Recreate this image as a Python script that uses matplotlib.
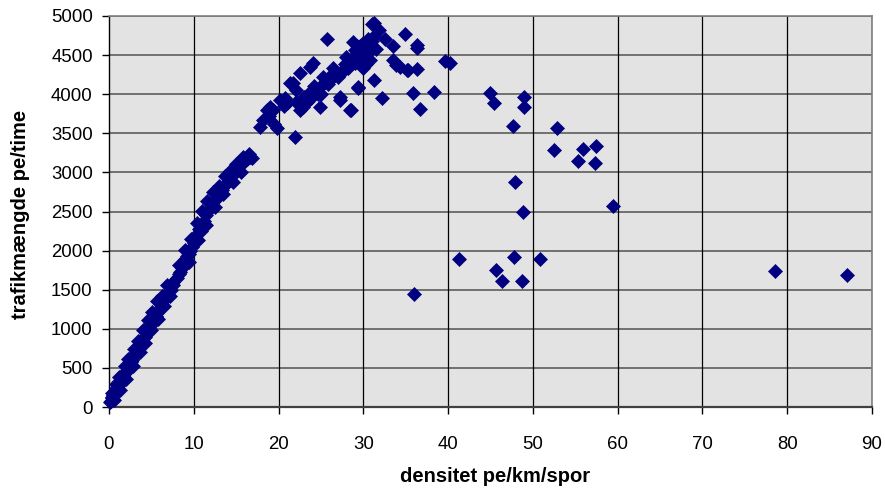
import matplotlib
matplotlib.use("Agg")
import matplotlib.pyplot as plt

plt.rcParams['font.family'] = ['Liberation Sans', 'DejaVu Sans']

# --- data: density (pe/km/lane) vs flow (pe/hour) ---
band_x = [0.1, 0.2, 0.3, 0.4, 0.5, 0.6, 0.7, 0.8, 0.9, 1.0, 1.1, 1.2, 1.3, 1.4, 1.5,
          1.6, 1.7, 1.8, 1.9, 2.0, 2.1, 2.2, 2.3, 2.4, 2.5, 2.6, 2.7, 2.8, 2.9, 3.0,
          3.2, 3.3, 3.5, 3.6, 3.8, 3.9, 4.1, 4.2, 4.4, 4.5, 4.7, 4.8, 5.0, 5.2, 5.3,
          5.5, 5.7, 5.8, 6.0, 6.2, 6.4, 6.5, 6.7, 6.9, 7.1, 7.3, 7.5, 8.0, 8.2, 8.4,
          8.6, 8.8, 9.0, 9.2, 9.4, 9.6, 9.8, 10.0, 10.3, 10.6, 10.9, 11.2, 11.5, 11.8,
          12.1, 12.4, 12.7, 13.0, 13.3, 13.6, 13.9, 14.2, 14.5, 14.8, 15.1, 15.4, 15.7,
          16.0, 16.3, 16.6, 16.9, 0.5, 1.5, 2.6, 3.4, 4.6, 5.6, 6.6, 9.1, 10.8, 12.9, 14.4]
band_y = [60, 80, 110, 130, 150, 170, 190, 210, 235, 250, 270, 300, 310, 330, 360,
          370, 400, 420, 430, 450, 470, 500, 520, 540, 560, 590, 600, 630, 650, 670,
          700, 720, 760, 790, 830, 850, 890, 900, 950, 980, 1000, 1030, 1060, 1100, 1120,
          1170, 1200, 1230, 1270, 1310, 1350, 1380, 1410, 1450, 1480, 1500, 1560, 1650, 1700, 1730,
          1780, 1830, 1880, 1930, 1960, 2000, 2050, 2100, 2200, 2270, 2320, 2380, 2450, 2520,
          2580, 2630, 2700, 2740, 2780, 2820, 2870, 2900, 2950, 3000, 3050, 3090, 3120,
          3150, 3170, 3200, 3180, 100, 330, 570, 760, 960, 1150, 1430, 1900, 2250, 2690, 2950]

band_hi_x = [0.3, 0.8, 1.2, 1.9, 2.3, 2.9, 3.4, 4.0, 4.6, 5.1, 5.7, 6.2, 6.8, 7.6, 8.3,
             9.0, 9.7, 10.4, 11.0, 11.6, 12.3, 13.0, 13.7, 14.3, 15.0, 15.8, 16.5]
band_hi_y = [180, 290, 380, 520, 610, 740, 850, 980, 1110, 1220, 1350, 1420, 1560, 1600, 1820,
             2010, 2150, 2350, 2510, 2640, 2750, 2830, 2950, 3020, 3110, 3200, 3230]

band_lo_x = [0.6, 1.3, 2.0, 2.8, 3.6, 4.3, 5.0, 5.8, 6.5, 7.2, 9.4, 10.5, 11.4, 12.5,
             13.5, 14.6, 15.6]
band_lo_y = [90, 220, 360, 520, 700, 820, 980, 1130, 1290, 1420, 1860, 2130, 2330, 2560,
             2720, 2880, 3010]

cong_x = [17.8, 18.2, 19.8, 19.0, 20.2, 21.0, 22.5, 21.7, 22.5, 24.1, 23.7, 24.9, 24.1, 24.2,
          25.7, 26.4, 27.2, 28.6, 28.0, 29.2, 29.4, 31.2, 31.2, 30.8, 31.2, 32.2, 32.6, 33.5,
          33.5, 21.9, 22.9, 20.8, 22.1, 21.3, 19.4, 25.3, 26.4, 26.8, 28.8, 29.6, 30.6, 30.0,
          28.8, 28.4, 27.2, 29.4, 31.0, 31.8, 34.9, 36.3, 36.3, 33.9, 35.3, 36.3, 39.6, 40.2,
          35.9, 38.3, 36.7, 34.3, 35.1, 22.0, 23.0, 23.5, 24.5, 25.0, 25.5, 26.0, 27.0, 27.5,
          28.2, 29.0, 29.8, 30.2, 30.4, 29.5, 30.9, 31.5, 27.8, 26.2, 25.0, 23.3, 20.6, 18.6,
          30.0, 29.0, 28.5, 27.6, 26.7, 25.8, 24.6, 23.8, 30.5, 31.0, 30.3, 28.0, 18.9, 19.5]
cong_y = [3584, 3670, 3564, 3840, 3926, 3883, 3798, 4138, 4266, 4394, 4352, 3840, 4011, 4100,
          4711, 4266, 3968, 3798, 4352, 4612, 4074, 4906, 4740, 4437, 4182, 3947, 4711, 4612,
          4437, 3457, 3841, 3947, 4054, 4138, 3798, 4224, 4331, 4266, 4480, 4612, 4526, 4331,
          4672, 3798, 3926, 4088, 4898, 4821, 4770, 4629, 4587, 4373, 4309, 4318, 4425, 4394,
          4011, 4024, 3807, 4352, 4309, 3900, 3960, 4000, 4050, 4100, 4150, 4180, 4220, 4280,
          4330, 4400, 4450, 4500, 4560, 4520, 4620, 4580, 4380, 4200, 4000, 3900, 3850, 3800,
          4650, 4560, 4420, 4300, 4250, 4130, 4000, 3950, 4700, 4680, 4390, 4470, 3720, 3620]

scat_x = [44.9, 45.4, 49.0, 49.0, 47.7, 52.8, 52.5, 55.9, 57.5, 55.3, 57.3, 47.9, 48.8,
          59.4, 41.3, 47.8, 50.8, 45.6, 46.3, 48.7, 36.0, 78.6, 87.0]
scat_y = [4011, 3892, 3968, 3840, 3593, 3572, 3286, 3295, 3337, 3146, 3116, 2877, 2490,
          2575, 1897, 1922, 1897, 1752, 1615, 1615, 1441, 1739, 1688]

x_ticks = [0, 10, 20, 30, 40, 50, 60, 70, 80, 90]
y_ticks = [0, 500, 1000, 1500, 2000, 2500, 3000, 3500, 4000, 4500, 5000]
x_label = "densitet pe/km/spor"
y_label = "trafikmængde pe/time"

xs = band_x + band_hi_x + band_lo_x + cong_x + scat_x
ys = band_y + band_hi_y + band_lo_y + cong_y + scat_y

fig = plt.figure(figsize=(8.85, 4.93), dpi=100)
ax = fig.add_axes([109/885, 86/493, 763/885, 391/493])
ax.set_facecolor('#E3E3E3')

ax.set_xlim(0, 90)
ax.set_ylim(0, 5000)
ax.set_xticks(x_ticks)
ax.set_yticks(y_ticks)

for yv in y_ticks[1:]:
    ax.axhline(yv, color='#707070', lw=1.4, zorder=1)
for xv in x_ticks[1:]:
    ax.axvline(xv, color='#000000', lw=0.9, zorder=1)

ax.plot(xs, ys, linestyle='none', marker='D', ms=6.8, color='#000080',
        mec='#000080', mew=0.5, zorder=3, clip_on=False)

for s in ['top', 'right']:
    ax.spines[s].set_color('#808080')
    ax.spines[s].set_linewidth(1.2)
ax.spines['left'].set_color('#000000')
ax.spines['left'].set_linewidth(1.0)
ax.spines['bottom'].set_color('#404040')
ax.spines['bottom'].set_linewidth(1.6)

ax.tick_params(axis='both', direction='out', length=4.7, width=1, color='#000000',
               labelsize=13.4)
ax.tick_params(axis='x', pad=16)
ax.tick_params(axis='y', pad=7)

fig.text(495/885, 1 - 476/493, x_label, ha='center', va='center',
         fontsize=14.5, fontweight='bold')
fig.text(21/885, 1 - 214/493, y_label, ha='center', va='center',
         fontsize=14.5, fontweight='bold', rotation=90)

fig.savefig('out.png', dpi=100)
